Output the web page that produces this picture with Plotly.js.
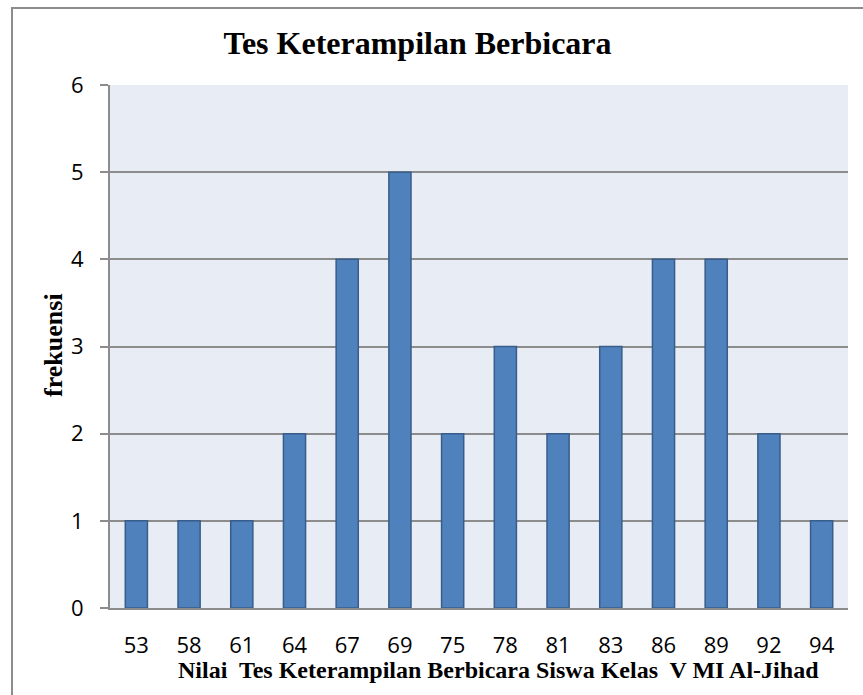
<!DOCTYPE html>
<html>
<head>
<meta charset="utf-8">
<script src="https://cdn.plot.ly/plotly-3.0.1.min.js"></script>
<style>html,body{margin:0;padding:0;background:#fff;}#chart{width:863px;height:695px;}</style>
</head>
<body>
<div id="chart"></div>
<script>
const categories = ["53","58","61","64","67","69","75","78","81","83","86","89","92","94"];
const frekuensi = [1,1,1,2,4,5,2,3,2,3,4,4,2,1];
const yTicks = [0,1,2,3,4,5,6];
const chartTitle = "Tes Keterampilan Berbicara";
const xTitle = "Nilai  Tes Keterampilan Berbicara Siswa Kelas  V MI Al-Jihad";
const yTitle = "frekuensi";

const serif = "'Liberation Serif', 'Times New Roman', serif";
const sans = "'Open Sans', 'Liberation Sans', Arial, sans-serif";

const trace = {
  type: 'bar',
  x: categories,
  y: frekuensi,
  marker: {color: '#4F81BD', line: {color: '#385D8A', width: 1.5}},
  hoverinfo: 'x+y'
};

const layout = {
  width: 863, height: 695,
  margin: {l: 110, r: 15, t: 85, b: 87},
  paper_bgcolor: '#ffffff',
  plot_bgcolor: '#E8ECF4',
  bargap: 0.58,
  showlegend: false,
  title: {
    text: '<b>' + chartTitle + '</b>',
    font: {family: serif, size: 32, color: '#000'},
    xref: 'paper', x: 0.4167, xanchor: 'center',
    yref: 'paper', y: 1.0727, yanchor: 'middle'
  },
  xaxis: {
    type: 'category',
    tickfont: {family: sans, size: 22, color: '#000'},
    ticklabelstandoff: 17,
    showgrid: false,
    showline: true, linecolor: '#8C8C8C', linewidth: 2,
    ticks: '', zeroline: false,
    fixedrange: true
  },
  yaxis: {
    range: [0, 6],
    tickvals: yTicks,
    tickfont: {family: sans, size: 22, color: '#000'},
    ticklabelstandoff: 12,
    showgrid: true, gridcolor: '#8C8C8C', gridwidth: 2,
    showline: true, linecolor: '#8C8C8C', linewidth: 2,
    ticks: 'outside', ticklen: 8, tickcolor: '#8C8C8C', tickwidth: 2,
    zeroline: false,
    fixedrange: true
  },
  annotations: [
    {text: '<b>' + xTitle + '</b>', xref: 'paper', yref: 'paper', x: 0.527, y: -0.1186,
     xanchor: 'center', yanchor: 'middle', showarrow: false,
     font: {family: serif, size: 24, color: '#000'}},
    {text: '<b>' + yTitle + '</b>', xref: 'paper', yref: 'paper', x: -0.0759, y: 0.503,
     xanchor: 'center', yanchor: 'middle', showarrow: false, textangle: -90,
     font: {family: serif, size: 26, color: '#000'}}
  ],
  shapes: [
    {type: 'rect', xref: 'paper', yref: 'paper', x0: -0.1328, x1: 1.1, y0: -0.3, y1: 1.1472,
     line: {color: '#8C8C8C', width: 2}, fillcolor: 'rgba(0,0,0,0)', layer: 'below'}
  ]
};

Plotly.newPlot('chart', [trace], layout, {displayModeBar: false});
</script>
</body>
</html>
